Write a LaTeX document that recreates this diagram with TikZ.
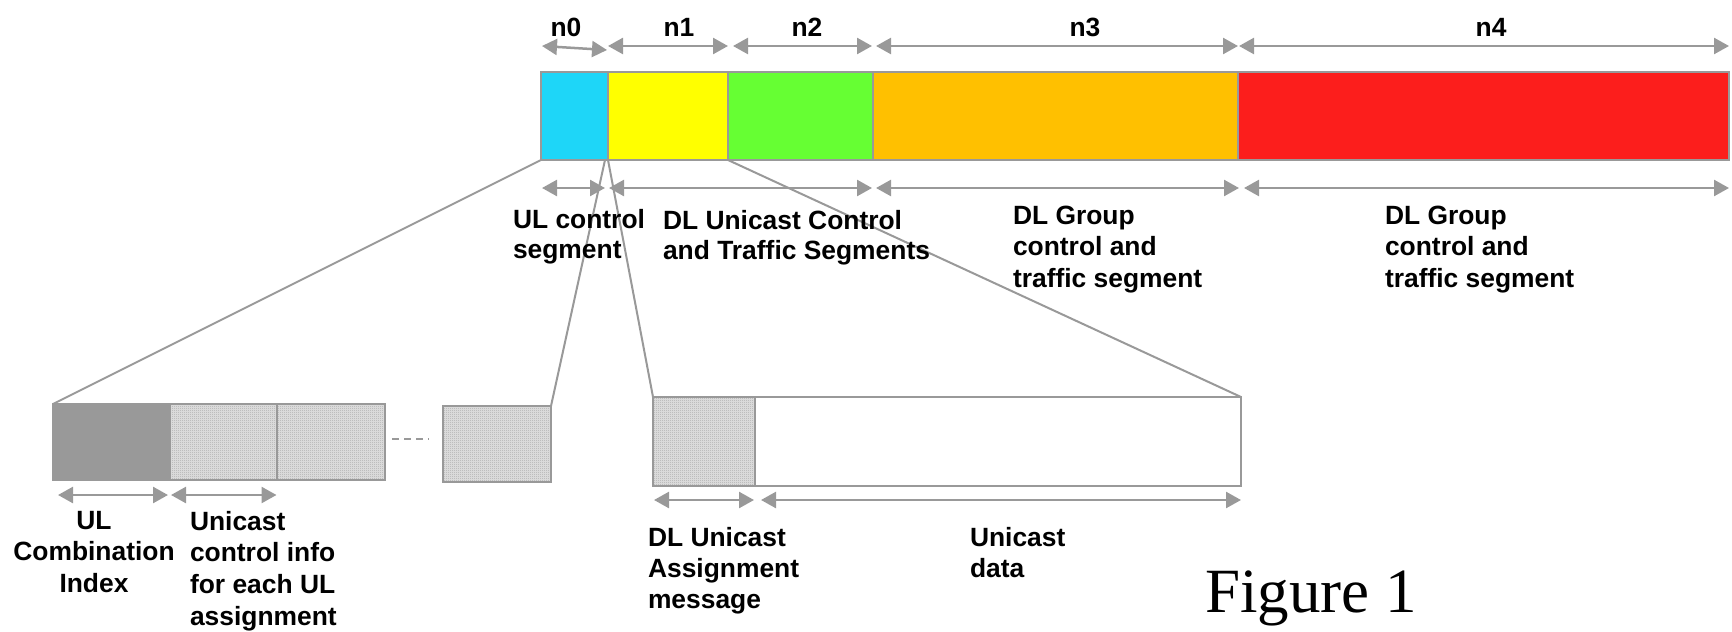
\documentclass[tikz,border=0pt]{standalone}
\usepackage{fontspec}
\setmainfont{Liberation Sans}
\newfontfamily\figfont{Liberation Serif}
\usetikzlibrary{arrows.meta,calc,patterns}
\definecolor{lg}{RGB}{153,153,153}
\definecolor{ccyan}{RGB}{30,214,248}
\definecolor{cyel}{RGB}{255,255,0}
\definecolor{cgreen}{RGB}{102,255,51}
\definecolor{corange}{RGB}{255,192,0}
\definecolor{cred}{RGB}{252,30,28}
\definecolor{dark}{RGB}{153,153,153}
\definecolor{dotbase}{RGB}{218,218,218}
\definecolor{dotcol}{RGB}{150,150,150}
\pgfdeclarepatternformonly{finedots}{\pgfqpoint{0pt}{0pt}}{\pgfqpoint{1pt}{1pt}}{\pgfqpoint{1pt}{1pt}}{\pgfpathrectangle{\pgfqpoint{0pt}{0pt}}{\pgfqpoint{0.5pt}{0.5pt}}\pgfusepath{fill}}
\tikzset{
  seg/.style={draw=lg, line width=1pt, inner sep=0pt, outer sep=0pt, anchor=north west},
  hatched/.style={preaction={fill=dotbase}, pattern=finedots, pattern color=dotcol},
  dim/.style={draw=lg, line width=1.25pt, {Triangle[length=7.5pt,width=8pt]}-{Triangle[length=7.5pt,width=8pt]}},
  conn/.style={draw=lg, line width=1pt},
  lbl/.style={font=\fontsize{13.2}{15.75}\selectfont\bfseries, inner sep=0pt, outer sep=0pt, align=left, anchor=north west},
  nlbl/.style={font=\fontsize{13.2}{15.75}\selectfont\bfseries, inner sep=0pt, outer sep=0pt}
}
\begin{document}
\begin{tikzpicture}[x=0.5pt,y=-0.5pt]
\useasboundingbox (0,0) rectangle (1732,631);
% top bar
\node[seg, fill=ccyan, minimum width=33.5pt, minimum height=44pt] (s0) at (541,72) {};
\node[seg, fill=cyel, minimum width=60pt, minimum height=44pt] (s1) at (s0.north east) {};
\node[seg, fill=cgreen, minimum width=72.5pt, minimum height=44pt] (s2) at (s1.north east) {};
\node[seg, fill=corange, minimum width=182.5pt, minimum height=44pt] (s3) at (s2.north east) {};
\node[seg, fill=cred, minimum width=245.5pt, minimum height=44pt] (s4) at (s3.north east) {};
% bottom left blocks
\node[seg, fill=dark, minimum width=58.5pt, minimum height=38pt] (b0) at (53,404) {};
\node[seg, hatched, minimum width=53.25pt, minimum height=38pt] (b1) at (b0.north east) {};
\node[seg, hatched, minimum width=54.25pt, minimum height=38pt] (b2) at (b1.north east) {};
\node[seg, hatched, minimum width=54pt, minimum height=38pt] (b3) at (443,406) {};
% big box
\node[seg, hatched, minimum width=51pt, minimum height=44.5pt] (m0) at (653,397) {};
\node[seg, fill=white, minimum width=243pt, minimum height=44.5pt] (m1) at (m0.north east) {};
% dashes
\coordinate (d1) at (392,439);
\coordinate (d2) at (429,439);
\draw[lg, line width=1pt, dash pattern=on 3.5pt off 2.5pt] (d1) -- (d2);
% connectors
\draw[conn] (s0.south west) -- (b0.north west);
\draw[conn] ($(s0.south east)+(-3,0)$) -- (b3.north east);
\draw[conn] (s1.south west) -- (m0.north west);
\draw[conn] (s1.south east) -- (m1.north east);
% top dimension arrows
\draw[dim] ($(s0.north west)+(1,-26)$) -- ($(s0.north east)+(-1,-22)$);
\draw[dim] ($(s1.north west)+(0,-26)$) -- ($(s1.north east)+(0,-26)$);
\draw[dim] ($(s2.north west)+(5,-26)$) -- ($(s2.north east)+(-1,-26)$);
\draw[dim] ($(s3.north west)+(3,-26)$) -- ($(s3.north east)+(0,-26)$);
\draw[dim] ($(s4.north west)+(1,-26)$) -- ($(s4.north east)+(0,-26)$);
% bottom dimension arrows
\draw[dim] ($(s0.south west)+(1,28)$) -- ($(s0.south east)+(-3,28)$);
\draw[dim] ($(s1.south west)+(1,28)$) -- ($(s2.south east)+(-1,28)$);
\draw[dim] ($(s3.south west)+(3,28)$) -- ($(s3.south east)+(1,28)$);
\draw[dim] ($(s4.south west)+(6,28)$) -- ($(s4.south east)+(0,28)$);
\draw[dim] ($(b0.south west)+(5,15)$) -- ($(b0.south east)+(-2,15)$);
\draw[dim] ($(b1.south west)+(1,15)$) -- ($(b1.south east)+(0,15)$);
\draw[dim] ($(m0.south west)+(1,14)$) -- ($(m0.south east)+(-1,14)$);
\draw[dim] ($(m1.south west)+(6,14)$) -- ($(m1.south east)+(0,14)$);
% n labels
\node[nlbl] (t0) at (566,27) {n0};
\node[nlbl] (t1) at (679,27) {n1};
\node[nlbl] (t2) at (807,27) {n2};
\node[nlbl] (t3) at (1085,27) {n3};
\node[nlbl] (t4) at (1491,27) {n4};
% labels
\node[lbl, font=\fontsize{13.2}{15}\selectfont\bfseries] (l0) at (513,209) {UL control\\segment};
\node[lbl, font=\fontsize{13.2}{15}\selectfont\bfseries] (l1) at (663,210) {DL Unicast Control\\and Traffic Segments};
\node[lbl] (l2) at (1013,206) {DL Group\\control and\\traffic segment};
\node[lbl] (l3) at (1385,206) {DL Group\\control and\\traffic segment};
\node[lbl, align=center, anchor=north, font=\fontsize{13.2}{15.9}\selectfont\bfseries] (l4) at (94,511) {UL\\Combination\\Index};
\node[lbl, font=\fontsize{13.2}{15.9}\selectfont\bfseries] (l5) at (190,511) {Unicast\\control info\\for each UL\\assignment};
\node[lbl, font=\fontsize{13.2}{15.5}\selectfont\bfseries] (l6) at (648,527) {DL Unicast\\Assignment\\message};
\node[lbl, font=\fontsize{13.2}{15.5}\selectfont\bfseries] (l7) at (970,527) {Unicast\\data};
\node[inner sep=0pt, anchor=base west, font=\figfont\fontsize{31.5}{38}\selectfont] (fig) at (1205,612) {Figure 1};
\end{tikzpicture}
\end{document}
